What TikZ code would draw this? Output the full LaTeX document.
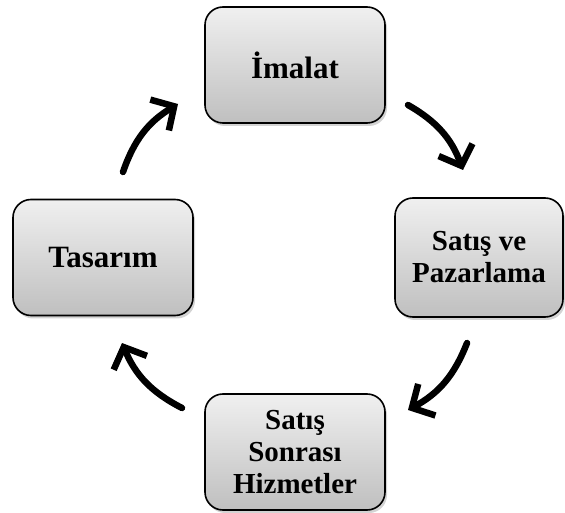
\documentclass[tikz,border=0pt]{standalone}
\usepackage{fontspec}
\setmainfont{Liberation Serif}
\usetikzlibrary{arrows.meta,shadows}
\tikzset{
  kutu/.style={draw,line width=1.6pt,rounded corners=18pt,top color=gray!12,bottom color=gray!50,
    minimum width=180pt,minimum height=116pt,align=center,
    font=\bfseries\fontsize{31}{32}\selectfont,
    drop shadow={shadow xshift=2pt,shadow yshift=-3pt,opacity=.35}},
  kucuk/.style={font=\bfseries\fontsize{29}{32}\selectfont},
  ok/.style={line width=6.5pt,line cap=round,-{Straight Barb[length=17pt,width=36pt]}}
}
\begin{document}
\begin{tikzpicture}[x=1pt,y=1pt]
            \useasboundingbox (0,0) rectangle (565,512);
            \node[kutu] (imalat) at (295,447) {İmalat};
            \node[kutu,kucuk,minimum width=168pt,minimum height=119pt] (satis) at (479,254.5) {Satış ve\\Pazarlama};
            \node[kutu] (tasarim) at (103,254.5) {Tasarım};
            \node[kutu,kucuk] (hizmet) at (295,60) {Satış\\Sonrası\\Hizmetler};
            % ok uclari
            \coordinate (o1) at (408,407); \coordinate (o2) at (463,342);
            \coordinate (o3) at (467,169); \coordinate (o4) at (408,102);
            \coordinate (o5) at (182,104); \coordinate (o6) at (122,169);
            \coordinate (o7) at (123,340); \coordinate (o8) at (178,408);
            \foreach \a/\b in {o1/o2,o3/o4,o5/o6,o7/o8}{
                \draw[ok] (\a) to[bend left=20] (\b);
            }
        \end{tikzpicture}
\end{document}
